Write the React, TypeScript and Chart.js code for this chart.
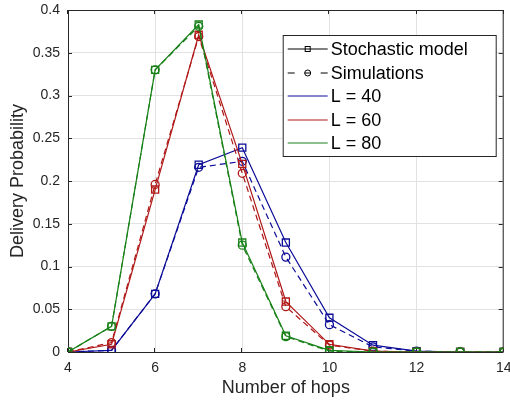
import React, { useEffect, useRef } from "react";
import { Chart, registerables } from "chart.js";

Chart.register(...registerables);

// ---- data ----
const hops = [4, 5, 6, 7, 8, 9, 10, 11, 12, 13, 14];
const modelL40 = [0, 0.002, 0.068, 0.219, 0.239, 0.128, 0.040, 0.008, 0.001, 0, 0];
const simL40 = [0, 0.002, 0.068, 0.216, 0.223, 0.111, 0.032, 0.006, 0.001, 0, 0];
const modelL60 = [0, 0.009, 0.190, 0.371, 0.220, 0.059, 0.009, 0.001, 0, 0, 0];
const simL60 = [0, 0.011, 0.196, 0.369, 0.209, 0.053, 0.008, 0.001, 0, 0, 0];
const modelL80 = [0, 0.030, 0.330, 0.383, 0.128, 0.019, 0.002, 0, 0, 0, 0];
const simL80 = [0, 0.030, 0.330, 0.381, 0.125, 0.018, 0.001, 0, 0, 0, 0];

const xTicks = [4, 6, 8, 10, 12, 14];
const yTicks = [0, 0.05, 0.1, 0.15, 0.2, 0.25, 0.3, 0.35, 0.4];
const yTickLabels = ["0", "0.05", "0.1", "0.15", "0.2", "0.25", "0.3", "0.35", "0.4"];

const legendLabels = ["Stochastic model", "Simulations", "L = 40", "L = 60", "L = 80"];
const xTitle = "Number of hops";
const yTitle = "Delivery Probability";

const BLUE = "#0c0c98";
const RED = "#b01818";
const GREEN = "#188018";
const AXIS = "#262626";
const FONT = "'Liberation Sans', Arial, Helvetica, sans-serif";

const pts = (ys: number[]) => hops.map((x, i) => ({ x, y: ys[i] }));

function series(label: string, ys: number[], color: string, sim: boolean) {
  return {
    label,
    data: pts(ys),
    borderColor: color,
    backgroundColor: "rgba(0,0,0,0)",
    borderWidth: 1.2,
    borderDash: sim ? [6, 4] : [],
    pointStyle: sim ? "circle" : "rect",
    pointRadius: sim ? 4 : 5,
    pointBorderWidth: 1.3,
    pointBorderColor: color,
    pointBackgroundColor: "rgba(0,0,0,0)",
    tension: 0,
  };
}

const framePlugin = {
  id: "frame",
  beforeDatasetsDraw(chart: any) {
    const { ctx, chartArea } = chart;
    const { left, right, top, bottom } = chartArea;
    const xs = chart.scales.x;
    const ys = chart.scales.y;
    ctx.save();
    ctx.strokeStyle = AXIS;
    ctx.lineWidth = 1;
    ctx.beginPath();
    ctx.rect(left + 0.5, top + 0.5, right - left - 1, bottom - top);
    ctx.stroke();
    const tl = 4;
    ctx.beginPath();
    xTicks.forEach((v) => {
      const px = Math.round(xs.getPixelForValue(v)) - 0.5;
      ctx.moveTo(px, bottom);
      ctx.lineTo(px, bottom - tl);
      ctx.moveTo(px, top);
      ctx.lineTo(px, top + tl);
    });
    yTicks.forEach((v) => {
      const py = Math.round(ys.getPixelForValue(v)) + 0.5;
      ctx.moveTo(left, py);
      ctx.lineTo(left + tl, py);
      ctx.moveTo(right - 1, py);
      ctx.lineTo(right - 1 - tl, py);
    });
    ctx.stroke();
    ctx.restore();
  },
};

const legendPlugin = {
  id: "insideLegend",
  afterDraw(chart: any) {
    const { ctx, chartArea } = chart;
    const bx = chartArea.right - 221;
    const by = chartArea.top + 25;
    const bw = 213;
    const bh = 121;
    ctx.save();
    ctx.fillStyle = "#ffffff";
    ctx.fillRect(bx, by, bw, bh);
    ctx.strokeStyle = AXIS;
    ctx.lineWidth = 1;
    ctx.strokeRect(bx + 0.5, by + 0.5, bw, bh);
    const colors = ["#000000", "#000000", BLUE, RED, GREEN];
    const x0 = bx + 5;
    const x1 = bx + 45;
    const xc = (x0 + x1) / 2;
    ctx.font = `18px ${FONT}`;
    ctx.textBaseline = "middle";
    ctx.textAlign = "left";
    legendLabels.forEach((lab, i) => {
      const y = Math.round(by + 14 + i * 23.6);
      ctx.strokeStyle = colors[i];
      ctx.lineWidth = 1;
      ctx.beginPath();
      if (i === 1) {
        ctx.moveTo(x0, y);
        ctx.lineTo(x0 + 7, y);
        ctx.moveTo(x1 - 7, y);
        ctx.lineTo(x1, y);
        ctx.stroke();
        ctx.beginPath();
        ctx.arc(xc, y, 3, 0, Math.PI * 2);
        ctx.moveTo(xc - 3, y);
        ctx.lineTo(xc + 3, y);
        ctx.stroke();
      } else {
        ctx.moveTo(x0, y);
        ctx.lineTo(x1, y);
        ctx.stroke();
        if (i === 0) {
          ctx.strokeRect(xc - 2.5, y - 2.5, 5, 5);
        }
      }
      ctx.fillStyle = "#000000";
      ctx.fillText(lab, bx + 48, y + 1);
    });
    ctx.restore();
  },
};

export default function App() {
  const ref = useRef<HTMLCanvasElement | null>(null);
  useEffect(() => {
    if (!ref.current) return;
    Chart.defaults.font.family = FONT;
    const chart = new Chart(ref.current, {
      type: "line",
      data: {
        datasets: [
          series("L80 model", modelL80, GREEN, false),
          series("L80 sim", simL80, GREEN, true),
          series("L60 model", modelL60, RED, false),
          series("L60 sim", simL60, RED, true),
          series("L40 model", modelL40, BLUE, false),
          series("L40 sim", simL40, BLUE, true),
        ] as any,
      },
      options: {
        animation: false,
        responsive: false,
        devicePixelRatio: 1,
        layout: { padding: { top: 10, right: 6, left: 0, bottom: 0 } },
        plugins: { legend: { display: false }, tooltip: { enabled: false } },
        scales: {
          x: {
            type: "linear",
            min: 4,
            max: 14,
            afterBuildTicks: (s: any) => {
              s.ticks = xTicks.map((v) => ({ value: v }));
            },
            afterFit: (s: any) => {
              s.height = 51;
              s.paddingLeft = 0;
              s.paddingRight = 0;
              s.paddingTop = 0;
              s.paddingBottom = 0;
            },
            ticks: {
              color: AXIS,
              font: { size: 14, family: FONT },
              padding: 8,
              maxRotation: 0,
              callback: (v: any) => String(v),
            },
            grid: { color: "#e2e2e2", lineWidth: 1, drawTicks: false },
            border: { display: false },
            title: {
              display: true,
              text: xTitle,
              color: AXIS,
              font: { size: 18, family: FONT },
              padding: { top: 0, bottom: 4 },
            },
          },
          y: {
            type: "linear",
            min: 0,
            max: 0.4,
            afterBuildTicks: (s: any) => {
              s.ticks = yTicks.map((v) => ({ value: v }));
            },
            afterFit: (s: any) => {
              s.width = 68;
              s.paddingLeft = 0;
              s.paddingRight = 0;
              s.paddingTop = 0;
              s.paddingBottom = 0;
            },
            ticks: {
              color: AXIS,
              font: { size: 14, family: FONT },
              padding: 8,
              callback: (v: any) => {
                const i = yTicks.findIndex((t) => Math.abs(t - v) < 1e-9);
                return i >= 0 ? yTickLabels[i] : "";
              },
            },
            grid: { color: "#e2e2e2", lineWidth: 1, drawTicks: false },
            border: { display: false },
            title: {
              display: true,
              text: yTitle,
              color: AXIS,
              font: { size: 18, family: FONT },
              padding: { top: 7, bottom: 0 },
            },
          },
        },
      },
      plugins: [framePlugin, legendPlugin],
    } as any);
    return () => chart.destroy();
  }, []);
  return (
    <div style={{ position: "fixed", left: 0, top: 0, width: 510, height: 403, background: "#fff" }}>
      <canvas ref={ref} width={510} height={403} style={{ display: "block" }} />
    </div>
  );
}
